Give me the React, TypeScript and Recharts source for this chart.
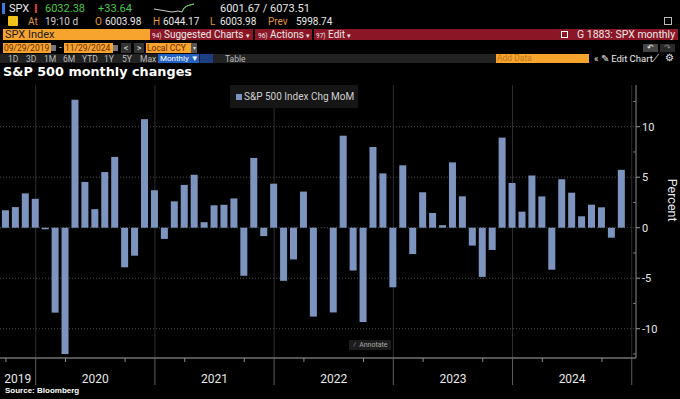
import React from "react";
import { BarChart, Bar, XAxis, YAxis, CartesianGrid } from "recharts";

// month-end points, Sep 2019 .. Nov 2024
const months = [
  "Sep 2019", "Oct 2019", "Nov 2019", "Dec 2019",
  "Jan 2020", "Feb 2020", "Mar 2020", "Apr 2020", "May 2020", "Jun 2020",
  "Jul 2020", "Aug 2020", "Sep 2020", "Oct 2020", "Nov 2020", "Dec 2020",
  "Jan 2021", "Feb 2021", "Mar 2021", "Apr 2021", "May 2021", "Jun 2021",
  "Jul 2021", "Aug 2021", "Sep 2021", "Oct 2021", "Nov 2021", "Dec 2021",
  "Jan 2022", "Feb 2022", "Mar 2022", "Apr 2022", "May 2022", "Jun 2022",
  "Jul 2022", "Aug 2022", "Sep 2022", "Oct 2022", "Nov 2022", "Dec 2022",
  "Jan 2023", "Feb 2023", "Mar 2023", "Apr 2023", "May 2023", "Jun 2023",
  "Jul 2023", "Aug 2023", "Sep 2023", "Oct 2023", "Nov 2023", "Dec 2023",
  "Jan 2024", "Feb 2024", "Mar 2024", "Apr 2024", "May 2024", "Jun 2024",
  "Jul 2024", "Aug 2024", "Sep 2024", "Oct 2024", "Nov 2024",
];

const changes = [
  1.72, 2.04, 3.4, 2.86,
  -0.16, -8.41, -12.51, 12.68, 4.53, 1.84, 5.51, 7.01, -3.92, -2.77, 10.75, 3.71,
  -1.11, 2.61, 4.24, 5.24, 0.55, 2.22, 2.27, 2.9, -4.76, 6.91, -0.83, 4.36,
  -5.26, -3.14, 3.58, -8.8, 0.01, -8.39, 9.11, -4.24, -9.34, 7.99, 5.38, -5.9,
  6.18, -2.61, 3.51, 1.46, 0.25, 6.47, 3.11, -1.77, -4.87, -2.2, 8.92, 4.42,
  1.59, 5.17, 3.1, -4.16, 4.8, 3.47, 1.13, 2.28, 2.02, -0.99, 5.73,
];

const yearLabels = ["2019", "2020", "2021", "2022", "2023", "2024"];
const yTicks = [-12.5, -10, -7.5, -5, -2.5, 0, 2.5, 5, 7.5, 10, 12.5];
const yGrid = [-10, -5, 0, 5, 10];

const data = months.map((m, i) => ({ i, month: m, chg: changes[i] }));

const X_MIN = -0.594;
const X_MAX = 63.43;

// year ends fall on the December points; the last one is one year past the last Dec
const decIdx = months.map((m, i) => (m.startsWith("Dec") ? i : -1)).filter((i) => i >= 0);
const boundaries = [...decIdx, decIdx[decIdx.length - 1] + 12];
const halfYear = months
  .map((m, i) => (m.startsWith("Mar") || m.startsWith("Sep") ? i : -1))
  .filter((i) => i >= 0);
const yearCenters = boundaries.map((b, k) => {
  const start = k === 0 ? X_MIN : boundaries[k - 1];
  return (start + b) / 2;
});

const tickKind = new Map<number, { kind: string; label?: string }>();
boundaries.forEach((b) => tickKind.set(b, { kind: "sep" }));
halfYear.forEach((h) => tickKind.set(h, { kind: "minor" }));
yearCenters.forEach((c, k) => tickKind.set(c, { kind: "year", label: yearLabels[k] }));
const xTicks = [...tickKind.keys()].sort((a, b) => a - b);

const BAR = "#7d94be";
const ORANGE = "#f6a42e";
const DIM_ORANGE = "#e0952c";
const MENU_RED = "#8a1626";
const UI_FONT = "Roboto, 'Liberation Sans', sans-serif";

function XTick(props: any) {
  const { x, y, payload } = props;
  const t = tickKind.get(payload.value);
  if (!t) return null;
  if (t.kind === "sep")
    return <line x1={x} x2={x} y1={y} y2={y + 27} stroke="#5e5e5e" strokeWidth={1} />;
  if (t.kind === "minor")
    return <line x1={x} x2={x} y1={y} y2={y + 4} stroke="#8a8a8a" strokeWidth={1} />;
  return (
    <text x={x} y={y + 25} textAnchor="middle" fill="#e8e8e8" fontSize={12} fontFamily={UI_FONT}>
      {t.label}
    </text>
  );
}

function YTick(props: any) {
  const { x, y, payload } = props;
  const v = payload.value;
  const major = v % 5 === 0;
  if (!major)
    return <line x1={x - 3} x2={x} y1={y} y2={y} stroke="#777" strokeWidth={1} />;
  return (
    <g>
      <line x1={x} x2={x + 4} y1={y} y2={y} stroke="#9a9a9a" strokeWidth={1} />
      <text x={x + 6} y={y + 4} fill="#e6e6e6" fontSize={11} fontFamily={UI_FONT}>
        {v}
      </text>
    </g>
  );
}

function T({ x, y, children, style }: { x: number; y: number; children: React.ReactNode; style?: React.CSSProperties }) {
  return (
    <span
      style={{
        position: "absolute",
        left: x,
        top: y,
        whiteSpace: "nowrap",
        lineHeight: 1,
        fontFamily: UI_FONT,
        fontSize: 10,
        color: "#e8e8e8",
        ...style,
      }}
    >
      {children}
    </span>
  );
}

function Box({ x, y, w, h, bg, children, style }: { x: number; y: number; w: number; h: number; bg: string; children?: React.ReactNode; style?: React.CSSProperties }) {
  return (
    <div
      style={{
        position: "absolute",
        left: x,
        top: y,
        width: w,
        height: h,
        background: bg,
        fontFamily: UI_FONT,
        fontSize: 10,
        lineHeight: `${h}px`,
        whiteSpace: "nowrap",
        overflow: "hidden",
        ...style,
      }}
    >
      {children}
    </div>
  );
}

function Header() {
  return (
    <>
      {/* quote line */}
      <Box x={2} y={3} w={3} h={11} bg="#3b7be0" />
      <T x={9} y={3} style={{ fontSize: 11 }}>SPX</T>
      <Box x={35} y={4} w={2} h={9} bg="#e03030" />
      <T x={45} y={3} style={{ color: "#45c845", fontSize: 11 }}>6032.38</T>
      <T x={98} y={3} style={{ color: "#45c845", fontSize: 11 }}>+33.64</T>
      <svg style={{ position: "absolute", left: 154, top: 2 }} width={42} height={12}>
        <polyline points="0,7 6,8 12,9 18,10 24,9 28,10 30,6 33,4 36,3 40,2" fill="none" stroke="#ccc" strokeWidth={1} />
        <polyline points="28,10 30,6 33,4 36,3 40,2" fill="none" stroke="#3fc43f" strokeWidth={1} />
      </svg>
      <T x={220} y={3} style={{ fontSize: 11 }}>6001.67 / 6073.51</T>
      <Box x={8} y={16} w={10} h={10} bg="#f2c21b" style={{ borderRadius: 1 }} />
      <T x={28} y={17} style={{ color: DIM_ORANGE }}>At</T>
      <T x={45} y={17} style={{ color: "#cfcfcf" }}>19:10 d</T>
      <T x={95} y={17} style={{ color: DIM_ORANGE }}>O</T>
      <T x={105} y={17}>6003.98</T>
      <T x={153} y={17} style={{ color: DIM_ORANGE }}>H</T>
      <T x={163} y={17}>6044.17</T>
      <T x={210} y={17} style={{ color: DIM_ORANGE }}>L</T>
      <T x={220} y={17}>6003.98</T>
      <T x={268} y={17} style={{ color: DIM_ORANGE }}>Prev</T>
      <T x={296} y={17}>5998.74</T>
      <Box x={664} y={17} w={8} h={8} bg="transparent" style={{ border: "1px solid #bbb", boxSizing: "border-box" }} />

      {/* ticker / menu bar */}
      <Box x={3} y={29} w={145} h={11} bg={ORANGE} style={{ color: "#1a1a1a", fontSize: 11, paddingLeft: 2 }}>SPX Index</Box>
      <Box x={150} y={29} w={528} h={11} bg={MENU_RED} />
      <Box x={253} y={29} w={2} h={11} bg="#000" />
      <Box x={312} y={29} w={2} h={11} bg="#000" />
      <T x={152} y={30} style={{ fontSize: 10 }}>
        <span style={{ fontSize: 6.5 }}>94)</span> Suggested Charts <span style={{ fontSize: 6.5 }}>▾</span>
      </T>
      <T x={258} y={30} style={{ fontSize: 10 }}>
        <span style={{ fontSize: 6.5 }}>96)</span> Actions <span style={{ fontSize: 6.5 }}>▾</span>
      </T>
      <T x={316} y={30} style={{ fontSize: 10 }}>
        <span style={{ fontSize: 6.5 }}>97)</span> Edit <span style={{ fontSize: 6.5 }}>▾</span>
      </T>
      <Box x={561} y={31} w={7} h={7} bg="transparent" style={{ border: "1px solid #fff", boxSizing: "border-box" }} />
      <T x={577} y={30} style={{ fontSize: 10.5 }}>G 1883: SPX monthly</T>

      {/* date row */}
      <Box x={3} y={43} w={47} h={10} bg={ORANGE} style={{ color: "#6b2a00", fontSize: 8.5, paddingLeft: 1 }}>09/29/2019</Box>
      <Box x={51} y={45} w={5} h={6} bg="#777" />
      <T x={59} y={43} style={{ color: "#bbb" }}>-</T>
      <Box x={64} y={43} w={48} h={10} bg={ORANGE} style={{ color: "#6b2a00", fontSize: 8.5, paddingLeft: 1 }}>11/29/2024</Box>
      <Box x={113} y={45} w={5} h={6} bg="#777" />
      <Box x={121} y={43} w={10} h={10} bg="#333" style={{ color: "#ddd", textAlign: "center", fontSize: 9 }}>&lt;</Box>
      <Box x={134} y={43} w={10} h={10} bg="#333" style={{ color: "#ddd", textAlign: "center", fontSize: 9 }}>&gt;</Box>
      <Box x={146} y={43} w={44} h={10} bg={ORANGE} style={{ color: "#6b2a00", fontSize: 8.5, paddingLeft: 1 }}>Local CCY</Box>
      <Box x={191} y={43} w={6} h={10} bg="#555" style={{ color: "#ddd", fontSize: 6, textAlign: "center" }}>▾</Box>
      <Box x={643} y={44} w={15} h={8} bg="#444" style={{ color: "#eee", fontSize: 8, textAlign: "center" }}>↶</Box>
      <Box x={660} y={44} w={15} h={8} bg="#2a2a2a" style={{ color: "#888", fontSize: 8, textAlign: "center" }}>↷</Box>

      {/* range row */}
      <Box x={0} y={54} w={496} h={9} bg="#222" />
      {[
        ["1D", 8], ["3D", 26], ["1M", 44], ["6M", 63], ["YTD", 82], ["1Y", 104], ["5Y", 122], ["Max", 140],
      ].map(([t, x]) => (
        <T key={t as string} x={x as number} y={55} style={{ color: "#bdbdbd", fontSize: 8.5 }}>{t}</T>
      ))}
      <Box x={158} y={54} w={39} h={9} bg="#2461c4" style={{ color: "#fff", fontSize: 8, paddingLeft: 2 }}>Monthly ▼</Box>
      <Box x={200} y={54} w={13} h={9} bg="#1b3f80" />
      <T x={225} y={55} style={{ color: "#bdbdbd", fontSize: 8.5 }}>Table</T>
      <Box x={496} y={54} w={92} h={9} bg={ORANGE} style={{ color: "#c2761c", fontSize: 8.5, paddingLeft: 1 }}>Add Data</Box>
      <T x={594} y={54} style={{ fontSize: 9.5 }}>« ✎ Edit Chart</T>
      <T x={652} y={54} style={{ fontSize: 9.5 }}>⟋</T>
      <T x={665} y={53} style={{ fontSize: 10 }}>⚙</T>

      {/* title */}
      <T x={3} y={66} style={{ fontFamily: "'DejaVu Sans', sans-serif", fontWeight: 700, fontSize: 12.8, color: "#fff" }}>
        S&amp;P 500 monthly changes
      </T>
    </>
  );
}

export default function App() {
  return (
    <div
      style={{
        position: "absolute",
        left: 0,
        top: 0,
        width: 680,
        height: 399,
        background: "#000",
        overflow: "hidden",
      }}
    >
      <Header />
      <div style={{ position: "absolute", left: 0, top: 0 }}>
        <BarChart width={680} height={399} data={data} margin={{ top: 85, right: 0, bottom: 0, left: 0 }}>
          <CartesianGrid horizontal={false} vertical verticalValues={boundaries} stroke="#2e2e2e" />
          <CartesianGrid horizontal vertical={false} horizontalValues={yGrid} stroke="#4a4a4a" strokeDasharray="1 2" />
          <Bar dataKey="chg" fill={BAR} barSize={7} isAnimationActive={false} />
          <XAxis
            dataKey="i"
            type="number"
            domain={[X_MIN, X_MAX]}
            ticks={xTicks}
            interval={0}
            height={41}
            tickLine={false}
            tickSize={0}
            tickMargin={0}
            axisLine={{ stroke: "#a8a8a8" }}
            tick={(p: any) => <XTick {...p} />}
          />
          <YAxis
            orientation="right"
            width={44}
            type="number"
            domain={[-12.9, 14.13]}
            ticks={yTicks}
            interval={0}
            tickLine={false}
            tickSize={0}
            tickMargin={0}
            axisLine={{ stroke: "#8a8a8a" }}
            tick={(p: any) => <YTick {...p} />}
            label={{
              value: "Percent",
              angle: 90,
              position: "insideRight",
              offset: 8,
              fill: "#e6e6e6",
              fontSize: 12.5,
              fontFamily: UI_FONT,
            }}
          />
        </BarChart>
      </div>

      {/* legend */}
      <div
        style={{
          position: "absolute",
          left: 230,
          top: 85,
          width: 128,
          height: 23,
          background: "#161616",
          fontFamily: UI_FONT,
          fontSize: 10,
          color: "#d0d0d0",
          lineHeight: "23px",
          whiteSpace: "nowrap",
        }}
      >
        <span style={{ display: "inline-block", width: 6, height: 6, background: BAR, marginLeft: 6, marginRight: 2 }} />
        S&amp;P 500 Index Chg MoM
      </div>

      {/* annotate */}
      <div
        style={{
          position: "absolute",
          left: 349,
          top: 340,
          width: 42,
          height: 10,
          background: "#1c1c1c",
          fontFamily: UI_FONT,
          fontSize: 7,
          color: "#a8a8a8",
          lineHeight: "10px",
          whiteSpace: "nowrap",
        }}
      >
        <span style={{ marginLeft: 4, marginRight: 3 }}>⁄</span>Annotate
      </div>

      <T x={5} y={387} style={{ fontFamily: "'Liberation Sans', Arial, sans-serif", fontWeight: 700, fontSize: 8, color: "#fff" }}>
        Source: Bloomberg
      </T>
    </div>
  );
}
